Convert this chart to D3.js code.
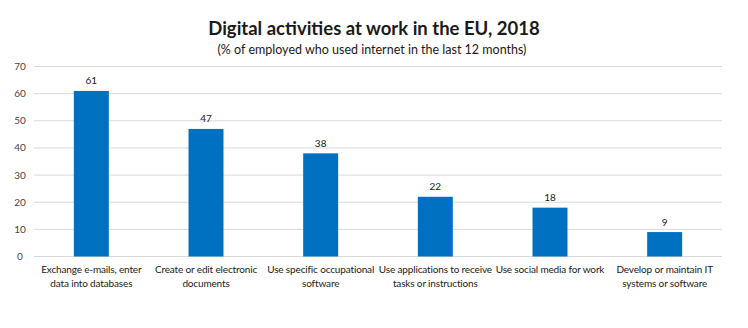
<!DOCTYPE html>
<html>
<head>
  <meta charset="utf-8" />
  <script src="https://d3js.org/d3.v7.min.js"></script>
  <style>
    body{margin:0;background:#fff;}
    svg text{font-family:Lato, "Open Sans", sans-serif;fill:#1a1a1a;}
  </style>
</head>
<body>
<script>
  // activities and share of employed (%)
  var activities = [
    ["Exchange e-mails, enter", "data into databases"],
    ["Create or edit electronic", "documents"],
    ["Use specific occupational", "software"],
    ["Use applications to receive", "tasks or instructions"],
    ["Use social media for work"],
    ["Develop or maintain IT", "systems or software"]
  ];
  var shares = [61, 47, 38, 22, 18, 9];
  var yTicks = [0, 10, 20, 30, 40, 50, 60, 70];

  var width = 748, height = 328;
  var margin = {top: 66.5, right: 26, bottom: 71.5, left: 34};

  var svg = d3.select('body').append('svg')
    .attr('width', width).attr('height', height);

  // title block
  svg.append('text')
    .attr('x', 374).attr('y', 35)
    .attr('text-anchor', 'middle')
    .style('font-size', '18.5px').style('font-weight', 'bold')
    .text('Digital activities at work in the EU, 2018');
  svg.append('text')
    .attr('x', 372).attr('y', 54)
    .attr('text-anchor', 'middle')
    .style('font-size', '12.5px')
    .text('(% of employed who used internet in the last 12 months)');

  var x = d3.scaleBand()
    .domain(d3.range(shares.length))
    .range([margin.left, width - margin.right]);
  var y = d3.scaleLinear()
    .domain([0, 70])
    .range([height - margin.bottom, margin.top]);

  var barW = x.bandwidth() * 0.305;

  // gridlines + tick labels
  var g = svg.append('g');
  g.selectAll('line.grid').data(yTicks).enter().append('line')
    .attr('class', 'grid')
    .attr('x1', margin.left).attr('x2', width - margin.right)
    .attr('y1', function(d){return y(d);}).attr('y2', function(d){return y(d);})
    .attr('stroke', '#d9d9d9').attr('stroke-width', 1);
  g.selectAll('text.tick').data(yTicks).enter().append('text')
    .attr('class', 'tick')
    .attr('x', 20).attr('y', function(d){return y(d) + 3.5;})
    .attr('text-anchor', 'middle')
    .style('font-size', '10px').style('fill', '#444')
    .text(function(d){return d;});

  // bars
  svg.selectAll('rect.bar').data(shares).enter().append('rect')
    .attr('class', 'bar')
    .attr('x', function(d, i){return x(i) + (x.bandwidth() - barW) / 2;})
    .attr('width', barW)
    .attr('y', function(d){return y(d);})
    .attr('height', function(d){return y(0) - y(d);})
    .attr('fill', '#0070c0');

  // value labels
  svg.selectAll('text.val').data(shares).enter().append('text')
    .attr('class', 'val')
    .attr('x', function(d, i){return x(i) + x.bandwidth() / 2;})
    .attr('y', function(d){return y(d) - 6.5;})
    .attr('text-anchor', 'middle')
    .style('font-size', '10px')
    .text(function(d){return d;});

  // category labels
  var cat = svg.selectAll('text.cat').data(activities).enter().append('text')
    .attr('class', 'cat')
    .attr('x', function(d, i){return x(i) + x.bandwidth() / 2;})
    .attr('y', 273)
    .attr('text-anchor', 'middle')
    .style('font-size', '10px')
    .style('letter-spacing', '-0.15px');
  cat.selectAll('tspan').data(function(d){return d;}).enter().append('tspan')
    .attr('x', function(){return d3.select(this.parentNode).attr('x');})
    .attr('dy', function(d, i){return i ? 14 : 0;})
    .text(function(d){return d;});
</script>
</body>
</html>
